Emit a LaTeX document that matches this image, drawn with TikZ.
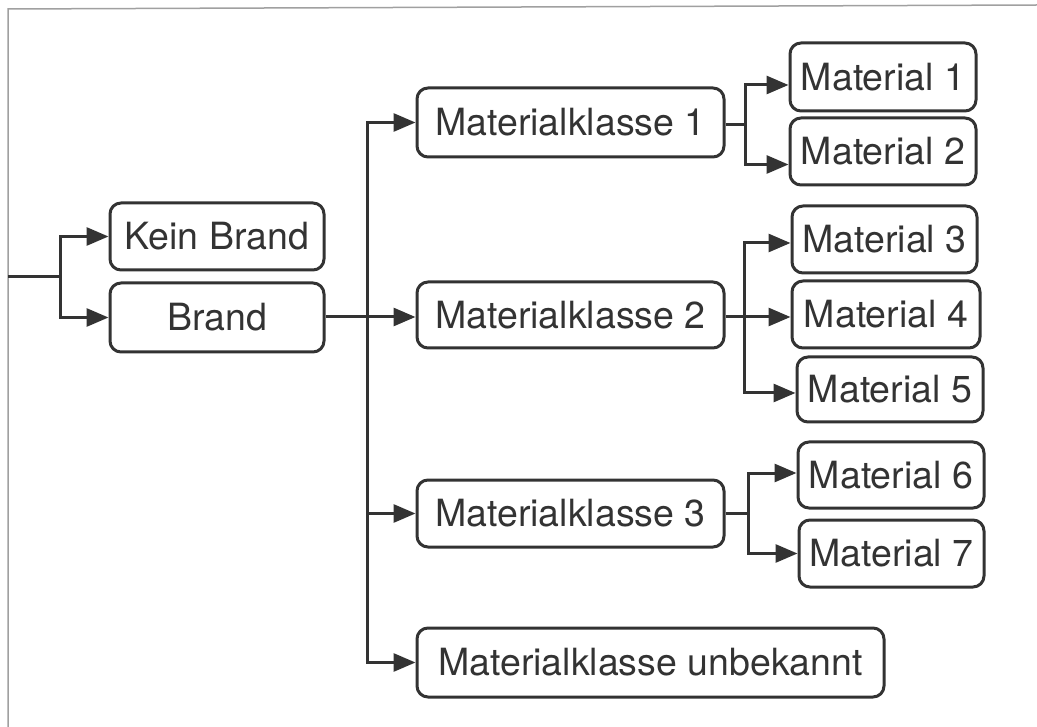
\documentclass[tikz,border=0pt]{standalone}
\usepackage{fontspec}
\setmainfont{TeX Gyre Heros}
\usetikzlibrary{arrows.meta,calc}
\definecolor{ink}{HTML}{333333}
\definecolor{frame}{HTML}{A0A0A0}
\tikzset{
  box/.style={draw=ink, line width=3pt, rounded corners=11pt, fill=white,
    text=ink, inner sep=0pt, font=\fontsize{37.5}{40}\selectfont},
  conn/.style={draw=ink, line width=3pt},
  arr/.style={conn, -{Triangle[length=22pt,width=18pt]}},
}
\begin{document}
\begin{tikzpicture}[x=1pt,y=-1pt]
\useasboundingbox (0,0) rectangle (1037,727);
% scan frame
\draw[frame, line width=1.5pt] (8,727) -- (8,9) -- (1037,5);

% nodes
\node[box, minimum width=214pt, minimum height=67pt] (kb) at (217,236.5) {Kein Brand};
\node[box, minimum width=214pt, minimum height=69pt] (br) at (217,317.5) {Brand};
\node[box, minimum width=307pt, minimum height=69pt] (k1) at (570.5,122.5) {Materialklasse 1};
\node[box, minimum width=307pt, minimum height=66pt] (k2) at (570.5,315) {Materialklasse 2};
\node[box, minimum width=307pt, minimum height=67pt] (k3) at (570.5,513.5) {Materialklasse 3};
\node[box, minimum width=467pt, minimum height=69pt] (ku) at (650.5,662.5) {Materialklasse unbekannt};
\node[box, minimum width=186pt, minimum height=68pt] (m1) at (883,77) {Material 1};
\node[box, minimum width=186pt, minimum height=67pt] (m2) at (883,151.5) {Material 2};
\node[box, minimum width=185pt, minimum height=67pt] (m3) at (884.5,239.5) {Material 3};
\node[box, minimum width=188pt, minimum height=67pt] (m4) at (886,314.5) {Material 4};
\node[box, minimum width=186pt, minimum height=65pt] (m5) at (890,389.5) {Material 5};
\node[box, minimum width=186pt, minimum height=66pt] (m6) at (891,475) {Material 6};
\node[box, minimum width=185pt, minimum height=67pt] (m7) at (891.5,553.5) {Material 7};

% junctions
\coordinate (root) at (8,277);
\coordinate (j0) at (60,277);
\coordinate (jb) at (367,317);
\coordinate (j1) at (745,125);
\coordinate (j2) at (744,317);
\coordinate (j3) at (748,513);

% root split
\draw[conn] (root) -- (j0);
\draw[arr] (j0) |- (kb.west);
\draw[arr] (j0) |- (br.west);

% Brand to classes
\draw[conn] (br.east |- jb) -- (jb);
\draw[arr] (jb) |- (k1.west);
\draw[arr] (jb) -- (k2.west |- jb);
\draw[arr] (jb) |- (k3.west);
\draw[arr] (jb) |- (ku.west);

% class 1
\draw[conn] (k1.east |- j1) -- (j1);
\draw[arr] (j1) |- ([yshift=-8pt]m1.west);
\draw[arr] (j1) |- ([yshift=-13pt]m2.west);

% class 2
\draw[conn] (k2.east |- j2) -- (j2);
\draw[arr] (j2) |- ([yshift=-3.5pt]m3.west);
\draw[arr] (j2) -- (m4.west |- j2);
\draw[arr] (j2) |- ([yshift=-3.5pt]m5.west);

% class 3
\draw[conn] (k3.east |- j3) -- (j3);
\draw[arr] (j3) |- ([yshift=2pt]m6.west);
\draw[arr] (j3) |- (m7.west);
\end{tikzpicture}
\end{document}
